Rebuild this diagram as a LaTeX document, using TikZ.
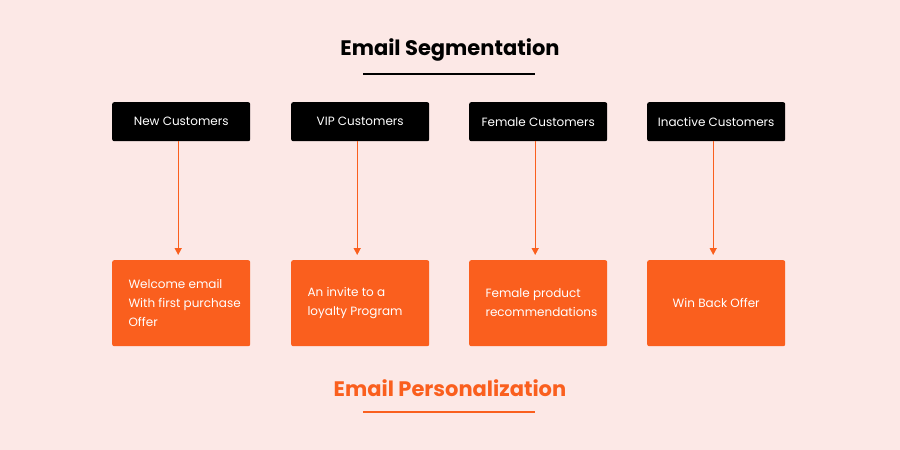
\documentclass[tikz,border=0pt]{standalone}
\usepackage{fontspec}
\usetikzlibrary{arrows.meta}
\setmainfont{Poppins}
\definecolor{bg}{HTML}{FCE8E6}
\definecolor{org}{HTML}{FA5F1E}
\begin{document}
\begin{tikzpicture}[x=1pt,y=-1pt,
  seg/.style={fill=black,text=white,minimum width=138pt,minimum height=39pt,rounded corners=2pt,font=\fontsize{12}{14}\selectfont,anchor=north west,inner sep=0pt},
  per/.style={fill=org,text=white,minimum width=138pt,minimum height=86pt,rounded corners=2pt,font=\fontsize{12}{19}\selectfont,anchor=north west,inner sep=0pt},
  arr/.style={org,line width=1.4pt,-{Triangle[length=7pt,width=7pt]}}]
\fill[bg] (0,0) rectangle (900,450);
\useasboundingbox (0,0) rectangle (900,450);
\node[font=\bfseries\fontsize{21}{24}\selectfont] (t1) at (450,50) {Email Segmentation};
\draw[line width=1.3pt] (363,74) -- (535,74);
\node[text=org,font=\bfseries\fontsize{21}{24}\selectfont] (t2) at (450,388) {Email Personalization};
\draw[org,line width=1.3pt] (363,412) -- (535,412);
\foreach \x/\n/\t in {112/a/New Customers,291/b/VIP Customers,469/c/Female Customers,647/d/Inactive Customers}{
  \node[seg] (s\n) at (\x,102) {\t};
}
\node[per] (pa) at (112,260) {};
\node[anchor=west,text=white,align=left,font=\fontsize{12}{19}\selectfont] at (125,303) {Welcome email\\With first purchase\\Offer};
\node[per] (pb) at (291,260) {};
\node[anchor=west,text=white,align=left,font=\fontsize{12}{19}\selectfont] at (304,303) {An invite to a\\loyalty Program};
\node[per] (pc) at (469,260) {};
\node[anchor=west,text=white,align=left,font=\fontsize{12}{19}\selectfont] at (482,303) {Female product\\recommendations};
\node[per] (pd) at (647,260) {Win Back Offer};
\foreach \n in {a,b,c,d}{
  \draw[arr] ([xshift=-3pt]s\n.south) -- ([xshift=-3pt,yshift=5pt]p\n.north);
}
\end{tikzpicture}
\end{document}
